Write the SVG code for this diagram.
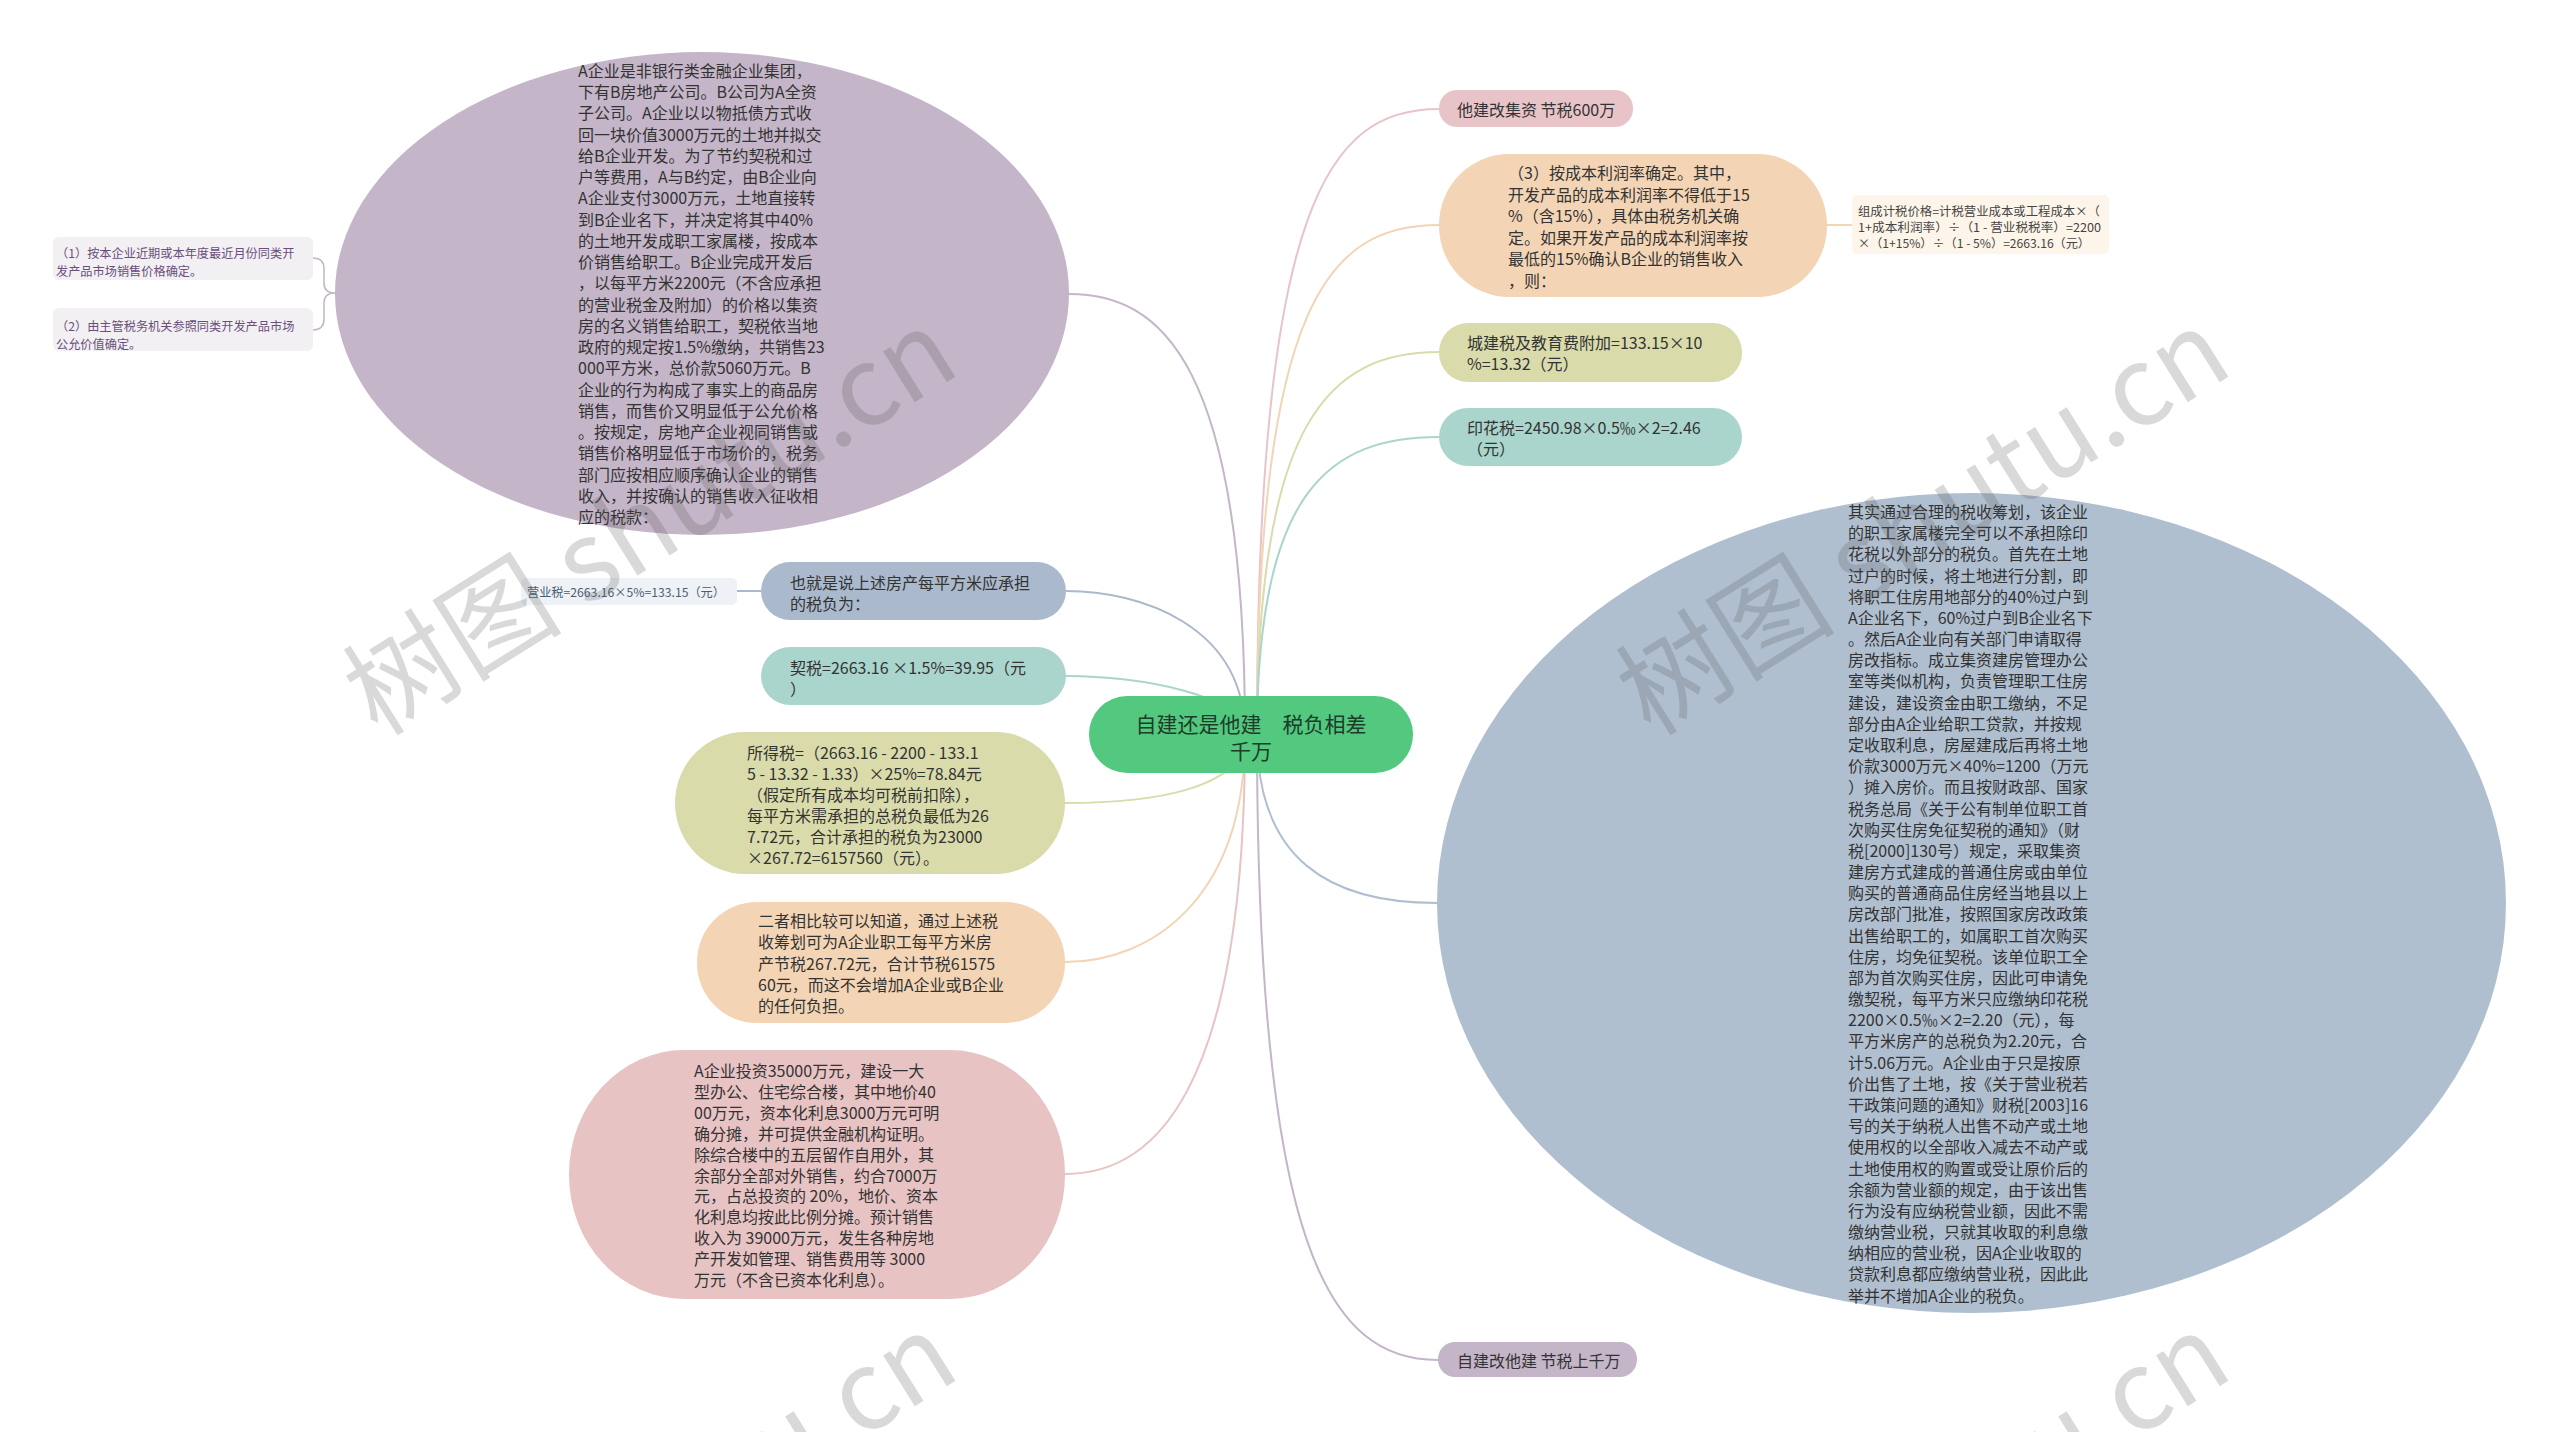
<svg xmlns="http://www.w3.org/2000/svg" width="2560" height="1432" viewBox="0 0 2560 1432">
<style>
text{font-family:"Noto Sans CJK SC","Microsoft YaHei",sans-serif;dominant-baseline:central;}
.t{font-size:16px;fill:#333333;}
.s{font-size:12.2px;}
.c{fill:none;stroke-width:2;}
.wm{font-size:110px;fill:#555555;opacity:0.22;text-anchor:middle;}
</style>
<rect width="2560" height="1432" fill="#ffffff"/>
<g id="connectors">
<path class="c" stroke="#c4b5c8" d="M1245 735 C1245 360 1160 294 1069 294"/>
<path class="c" stroke="#aab9cc" d="M1245 735 C1245 625 1140 591 1066 591"/>
<path class="c" stroke="#a9d5cc" d="M1245 735 C1245 695 1140 676 1066 676"/>
<path class="c" stroke="#d9dbab" d="M1245 735 C1245 790 1150 803 1065 803"/>
<path class="c" stroke="#f3d5b5" d="M1245 735 C1245 900 1150 962 1065 962"/>
<path class="c" stroke="#e8c3c4" d="M1245 735 C1245 1100 1150 1174 1065 1174"/>
<path class="c" stroke="#e8c4c8" d="M1257 735 C1257 200 1330 109 1439 109"/>
<path class="c" stroke="#f3d5b5" d="M1257 735 C1257 300 1330 225 1439 225"/>
<path class="c" stroke="#d9dbab" d="M1257 735 C1257 420 1330 352 1439 352"/>
<path class="c" stroke="#a9d5cc" d="M1257 735 C1257 490 1330 437 1439 437"/>
<path class="c" stroke="#b0bfd0" d="M1257 735 C1257 860 1330 903 1437 903"/>
<path class="c" stroke="#c4b5c8" d="M1257 735 C1257 1250 1330 1360 1438 1360"/>
<path class="c" stroke="#f3d5b5" d="M1827 225 L1852 225"/>
<path class="c" stroke="#aab9cc" d="M737 591 L761 591"/>
<path fill="none" stroke="#c4b5c8" stroke-width="1.5" d="M313 258 Q324 258 324 269 L324 283 Q324 293 335 293 Q324 293 324 303 L324 319 Q324 330 313 330"/>
</g>
<g id="n-center">
<rect x="1089" y="696" width="324" height="77" rx="38" fill="#52c97f"/>
<text x="1251" y="723" text-anchor="middle" style="font-size:21px;fill:#1f3b2a">自建还是他建　税负相差</text>
<text x="1251" y="750" text-anchor="middle" style="font-size:21px;fill:#1f3b2a">千万</text>
</g>
<g id="n-a-group">
<ellipse cx="702" cy="293.5" rx="367" ry="241.5" fill="#c4b5c8"/>
<text class="t"><tspan x="578" y="70">A企业是非银行类金融企业集团，</tspan><tspan x="578" dy="21.24">下有B房地产公司。B公司为A全资</tspan><tspan x="578" dy="21.24">子公司。A企业以以物抵债方式收</tspan><tspan x="578" dy="21.24">回一块价值3000万元的土地并拟交</tspan><tspan x="578" dy="21.24">给B企业开发。为了节约契税和过</tspan><tspan x="578" dy="21.24">户等费用，A与B约定，由B企业向</tspan><tspan x="578" dy="21.24">A企业支付3000万元，土地直接转</tspan><tspan x="578" dy="21.24">到B企业名下，并决定将其中40%</tspan><tspan x="578" dy="21.24">的土地开发成职工家属楼，按成本</tspan><tspan x="578" dy="21.24">价销售给职工。B企业完成开发后</tspan><tspan x="578" dy="21.24">，以每平方米2200元（不含应承担</tspan><tspan x="578" dy="21.24">的营业税金及附加）的价格以集资</tspan><tspan x="578" dy="21.24">房的名义销售给职工，契税依当地</tspan><tspan x="578" dy="21.24">政府的规定按1.5%缴纳，共销售23</tspan><tspan x="578" dy="21.24">000平方米，总价款5060万元。B</tspan><tspan x="578" dy="21.24">企业的行为构成了事实上的商品房</tspan><tspan x="578" dy="21.24">销售，而售价又明显低于公允价格</tspan><tspan x="578" dy="21.24">。按规定，房地产企业视同销售或</tspan><tspan x="578" dy="21.24">销售价格明显低于市场价的，税务</tspan><tspan x="578" dy="21.24">部门应按相应顺序确认企业的销售</tspan><tspan x="578" dy="21.24">收入，并按确认的销售收入征收相</tspan><tspan x="578" dy="21.24">应的税款：</tspan></text>
</g>
<g id="n-note1">
<rect x="53" y="237" width="260" height="43" rx="6" fill="#f3f0f4"/>
<text class="s" style="fill:#6a4f7a"><tspan x="56" y="253">（1）按本企业近期或本年度最近月份同类开</tspan><tspan x="56" y="271">发产品市场销售价格确定。</tspan></text>
</g>
<g id="n-note2">
<rect x="53" y="308" width="260" height="43" rx="6" fill="#f3f0f4"/>
<text class="s" style="fill:#6a4f7a"><tspan x="56" y="326">（2）由主管税务机关参照同类开发产品市场</tspan><tspan x="56" y="344">公允价值确定。</tspan></text>
</g>
<g id="n-yys">
<rect x="521" y="578" width="216" height="27" rx="5" fill="#eef2f6"/>
<text class="s" x="527" y="592" textLength="198" lengthAdjust="spacingAndGlyphs" style="fill:#4c5d73">营业税=2663.16×5%=133.15（元）</text>
</g>
<g id="n-shuifu">
<rect x="761" y="562" width="305" height="58" rx="29" fill="#aab9cc"/>
<text class="t"><tspan x="790" y="582">也就是说上述房产每平方米应承担</tspan><tspan x="790" y="603">的税负为：</tspan></text>
</g>
<g id="n-qishui">
<rect x="761" y="647" width="305" height="58" rx="29" fill="#a9d5cc"/>
<text class="t"><tspan x="790" y="667">契税=2663.16 ×1.5%=39.95（元</tspan><tspan x="790" y="688">）</tspan></text>
</g>
<g id="n-suodeshui">
<rect x="675" y="732" width="390" height="142" rx="70" ry="71" fill="#d9dbab"/>
<text class="t"><tspan x="747" y="752">所得税=（2663.16 - 2200 - 133.1</tspan><tspan x="747" dy="21">5 - 13.32 - 1.33）×25%=78.84元</tspan><tspan x="747" dy="21">（假定所有成本均可税前扣除），</tspan><tspan x="747" dy="21">每平方米需承担的总税负最低为26</tspan><tspan x="747" dy="21">7.72元，合计承担的税负为23000</tspan><tspan x="747" dy="21">×267.72=6157560（元）。</tspan></text>
</g>
<g id="n-bijiao">
<rect x="697" y="902" width="368" height="121" rx="60" ry="60" fill="#f3d5b5"/>
<text class="t"><tspan x="758" y="920">二者相比较可以知道，通过上述税</tspan><tspan x="758" dy="21.3">收筹划可为A企业职工每平方米房</tspan><tspan x="758" dy="21.3">产节税267.72元，合计节税61575</tspan><tspan x="758" dy="21.3">60元，而这不会增加A企业或B企业</tspan><tspan x="758" dy="21.3">的任何负担。</tspan></text>
</g>
<g id="n-touzi">
<rect x="569" y="1050" width="496" height="249" rx="115" ry="124" fill="#e8c3c4"/>
<text class="t"><tspan x="694" y="1070">A企业投资35000万元，建设一大</tspan><tspan x="694" dy="20.9">型办公、住宅综合楼，其中地价40</tspan><tspan x="694" dy="20.9">00万元，资本化利息3000万元可明</tspan><tspan x="694" dy="20.9">确分摊，并可提供金融机构证明。</tspan><tspan x="694" dy="20.9">除综合楼中的五层留作自用外，其</tspan><tspan x="694" dy="20.9">余部分全部对外销售，约合7000万</tspan><tspan x="694" dy="20.9">元，占总投资的 20%，地价、资本</tspan><tspan x="694" dy="20.9">化利息均按此比例分摊。预计销售</tspan><tspan x="694" dy="20.9">收入为 39000万元，发生各种房地</tspan><tspan x="694" dy="20.9">产开发如管理、销售费用等 3000</tspan><tspan x="694" dy="20.9">万元（不含已资本化利息）。</tspan></text>
</g>
<g id="n-tajian">
<rect x="1439" y="90" width="194" height="37" rx="18" fill="#e8c4c8"/>
<text class="t" x="1457" y="109">他建改集资 节税600万</text>
</g>
<g id="n-lirun">
<rect x="1439" y="154" width="388" height="143" rx="70" ry="71" fill="#f3d5b5"/>
<text class="t"><tspan x="1508" y="172">（3）按成本利润率确定。其中，</tspan><tspan x="1508" dy="21.6">开发产品的成本利润率不得低于15</tspan><tspan x="1508" dy="21.6">%（含15%），具体由税务机关确</tspan><tspan x="1508" dy="21.6">定。如果开发产品的成本利润率按</tspan><tspan x="1508" dy="21.6">最低的15%确认B企业的销售收入</tspan><tspan x="1508" dy="21.6">，则：</tspan></text>
</g>
<g id="n-zucheng">
<rect x="1852" y="195" width="257" height="59" rx="5" fill="#fdf5ea"/>
<text style="font-size:12px;fill:#444444"><tspan x="1858" y="210" textLength="242" lengthAdjust="spacingAndGlyphs">组成计税价格=计税营业成本或工程成本×（</tspan><tspan x="1858" y="226" textLength="243" lengthAdjust="spacingAndGlyphs">1+成本利润率）÷（1 - 营业税税率）=2200</tspan><tspan x="1858" y="242" textLength="232" lengthAdjust="spacingAndGlyphs">×（1+15%）÷（1 - 5%）=2663.16（元）</tspan></text>
</g>
<g id="n-chengjian">
<rect x="1439" y="323" width="303" height="59" rx="29" fill="#d9dbab"/>
<text class="t"><tspan x="1467" y="342">城建税及教育费附加=133.15×10</tspan><tspan x="1467" y="363">%=13.32（元）</tspan></text>
</g>
<g id="n-yinhua">
<rect x="1439" y="408" width="303" height="58" rx="29" fill="#a9d5cc"/>
<text class="t"><tspan x="1467" y="427">印花税=2450.98×0.5‰×2=2.46</tspan><tspan x="1467" y="448">（元）</tspan></text>
</g>
<g id="n-chouhua">
<ellipse cx="1971.5" cy="903" rx="534.5" ry="410" fill="#b0bfd0"/>
<text class="t"><tspan x="1848" y="511">其实通过合理的税收筹划，该企业</tspan><tspan x="1848" dy="21.18">的职工家属楼完全可以不承担除印</tspan><tspan x="1848" dy="21.18">花税以外部分的税负。首先在土地</tspan><tspan x="1848" dy="21.18">过户的时候，将土地进行分割，即</tspan><tspan x="1848" dy="21.18">将职工住房用地部分的40%过户到</tspan><tspan x="1848" dy="21.18">A企业名下，60%过户到B企业名下</tspan><tspan x="1848" dy="21.18">。然后A企业向有关部门申请取得</tspan><tspan x="1848" dy="21.18">房改指标。成立集资建房管理办公</tspan><tspan x="1848" dy="21.18">室等类似机构，负责管理职工住房</tspan><tspan x="1848" dy="21.18">建设，建设资金由职工缴纳，不足</tspan><tspan x="1848" dy="21.18">部分由A企业给职工贷款，并按规</tspan><tspan x="1848" dy="21.18">定收取利息，房屋建成后再将土地</tspan><tspan x="1848" dy="21.18">价款3000万元×40%=1200（万元</tspan><tspan x="1848" dy="21.18">）摊入房价。而且按财政部、国家</tspan><tspan x="1848" dy="21.18">税务总局《关于公有制单位职工首</tspan><tspan x="1848" dy="21.18">次购买住房免征契税的通知》（财</tspan><tspan x="1848" dy="21.18">税[2000]130号）规定，采取集资</tspan><tspan x="1848" dy="21.18">建房方式建成的普通住房或由单位</tspan><tspan x="1848" dy="21.18">购买的普通商品住房经当地县以上</tspan><tspan x="1848" dy="21.18">房改部门批准，按照国家房改政策</tspan><tspan x="1848" dy="21.18">出售给职工的，如属职工首次购买</tspan><tspan x="1848" dy="21.18">住房，均免征契税。该单位职工全</tspan><tspan x="1848" dy="21.18">部为首次购买住房，因此可申请免</tspan><tspan x="1848" dy="21.18">缴契税，每平方米只应缴纳印花税</tspan><tspan x="1848" dy="21.18">2200×0.5‰×2=2.20（元），每</tspan><tspan x="1848" dy="21.18">平方米房产的总税负为2.20元，合</tspan><tspan x="1848" dy="21.18">计5.06万元。A企业由于只是按原</tspan><tspan x="1848" dy="21.18">价出售了土地，按《关于营业税若</tspan><tspan x="1848" dy="21.18">干政策问题的通知》财税[2003]16</tspan><tspan x="1848" dy="21.18">号的关于纳税人出售不动产或土地</tspan><tspan x="1848" dy="21.18">使用权的以全部收入减去不动产或</tspan><tspan x="1848" dy="21.18">土地使用权的购置或受让原价后的</tspan><tspan x="1848" dy="21.18">余额为营业额的规定，由于该出售</tspan><tspan x="1848" dy="21.18">行为没有应纳税营业额，因此不需</tspan><tspan x="1848" dy="21.18">缴纳营业税，只就其收取的利息缴</tspan><tspan x="1848" dy="21.18">纳相应的营业税，因A企业收取的</tspan><tspan x="1848" dy="21.18">贷款利息都应缴纳营业税，因此此</tspan><tspan x="1848" dy="21.18">举并不增加A企业的税负。</tspan></text>
</g>
<g id="n-zijian">
<rect x="1438" y="1342" width="199" height="35" rx="17" fill="#c4b5c8"/>
<text class="t" x="1457" y="1360">自建改他建 节税上千万</text>
</g>
<g id="watermark">
<text class="wm" transform="translate(645 514) rotate(-32)">树图 shutu.cn</text>
<text class="wm" transform="translate(1918 514) rotate(-32)">树图 shutu.cn</text>
<text class="wm" transform="translate(645 1518) rotate(-32)">树图 shutu.cn</text>
<text class="wm" transform="translate(1918 1518) rotate(-32)">树图 shutu.cn</text>
</g>
</svg>
